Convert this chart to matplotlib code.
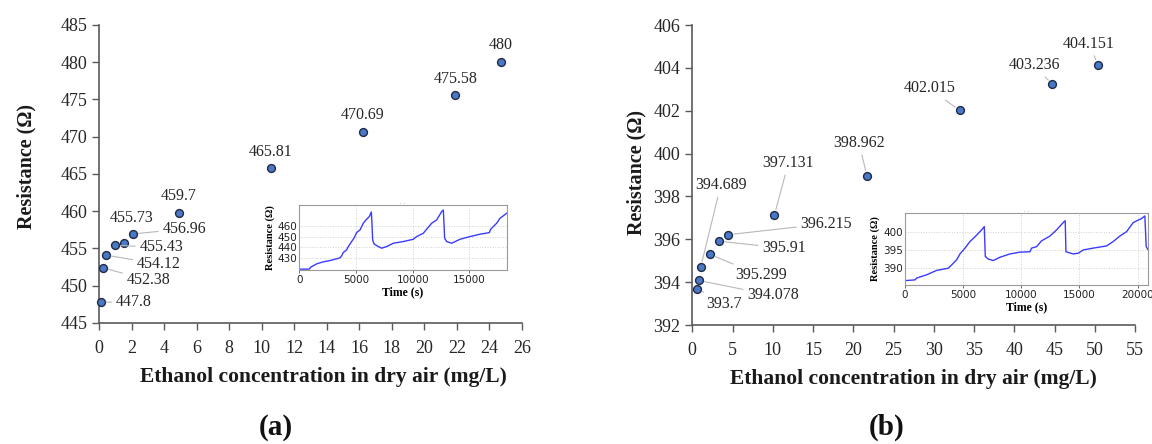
import matplotlib
matplotlib.use("Agg")
import matplotlib.pyplot as plt

# ---------------- data ----------------
conc_a = [0.1, 0.27, 0.4, 1.0, 1.55, 2.1, 4.92, 10.58, 16.2, 21.9, 24.7]
res_a = [447.8, 452.38, 454.12, 455.43, 455.73, 456.96, 459.7, 465.81, 470.69, 475.58, 480]

conc_b = [0.62, 0.84, 1.04, 2.16, 3.33, 4.49, 10.2, 21.7, 33.2, 44.7, 50.4]
res_b = [393.7, 394.078, 394.689, 395.299, 395.91, 396.215, 397.131, 398.962, 402.015, 403.236, 404.151]

# inset time series (a)
time_a = [0, 882, 1000, 1529, 2118, 2706, 3294, 3588, 3735, 3882, 4176, 4324, 4618, 4824,
          5059, 5353, 5647, 5882, 6176, 6353, 6412, 6471, 6588, 6971, 7265, 7706, 8294, 9176,
          10059, 10353, 10941, 11235, 11676, 12118, 12559, 12706, 12765, 12824, 13000, 13441,
          14176, 15059, 15941, 16765, 16882, 17412, 17706, 18294]
trace_a = [419.8, 419.8, 421.6, 424.7, 426.6, 427.8, 429.4, 430.3, 432.2, 435.3, 437.7, 440.8,
           445.5, 448.6, 453.8, 456.3, 462.5, 465.6, 468.7, 473.0, 462.5, 447.0, 443.3, 440.8,
           439.3, 440.8, 443.9, 445.5, 447.6, 450.1, 453.2, 456.9, 462.5, 465.6, 473.3, 474.8,
           462.5, 448.6, 445.5, 443.9, 447.6, 450.1, 452.3, 453.8, 456.9, 462.5, 467.1, 471.8]

# inset time series (b)
time_b = [0, 860, 1003, 1862, 2722, 3725, 4011, 4441, 4728, 5158, 5587, 6017, 6590, 6819, 6905,
          7163, 7593, 8166, 9026, 9885, 10745, 10888, 11318, 11748, 12464, 13037, 13668, 13782,
          13840, 14470, 14900, 15330, 16189, 17335, 17908, 18481, 19054, 19628, 20344, 20630,
          20745, 20917]
trace_b = [386.6, 386.8, 387.3, 388.2, 389.4, 390.0, 390.9, 392.3, 393.9, 395.5, 397.3, 398.6,
           400.5, 401.4, 393.2, 392.5, 392.1, 393.0, 393.9, 394.4, 394.5, 395.5, 395.9, 397.5,
           398.8, 400.5, 402.7, 403.0, 394.5, 393.9, 394.1, 395.0, 395.5, 396.1, 397.3, 398.8,
           400.0, 402.5, 403.6, 404.3, 395.9, 395.0]

xticks_a = list(range(0, 27, 2))
yticks_a = list(range(445, 486, 5))
xticks_b = list(range(0, 56, 5))
yticks_b = list(range(392, 407, 2))
inset_yticks_a = [430, 440, 450, 460]
inset_yticks_b = [390, 395, 400]
inset_xticks_a = [0, 5000, 10000, 15000]
inset_xticks_b = [0, 5000, 10000, 15000, 20000]

xlabel = "Ethanol concentration in dry air (mg/L)"
ylabel = "Resistance (\u03a9)"
inset_xlabel = "Time (s)"
inset_ylabel = "Resistance (\u03a9)"
panel_labels = ["(a)", "(b)"]

# label offsets in pixels (dx right, dy down) and whether a leader line is drawn
off_a = [(33, 0, True), (45, 12, True), (53, 9, True), (46, 2, True), (7, -25, False),
         (51, -5, True), (0, -17, False), (-1, -16, False), (0, -17, False), (0, -16, False),
         (0, -17, False)]
off_b = [(27, 15, True), (74, 15, True), (20, -82, True), (51, 21, True), (65, 7, True),
         (98, -11, True), (14, -52, True), (-8, -33, True), (-30, -22, True), (-18, -19, True),
         (-9, -21, True)]

SERIF = "Liberation Serif"
plt.rcParams["font.family"] = SERIF

W, H = 1152, 444
fig = plt.figure(figsize=(W / 100, H / 100), dpi=100)
fig.patch.set_facecolor("white")

def px_axes(x0, y0, x1, y1):
    return fig.add_axes([x0 / W, 1 - y1 / H, (x1 - x0) / W, (y1 - y0) / H])

spine_col = "#5a5a5a"
text_col = "#262626"
marker_face = "#4a78c8"
marker_edge = "#1f2a44"
leader_col = "#b8b8b8"

def main_panel(ax, xs, ys, xlim, ylim, xt, yt, offsets, xlab_x, ylab_x, ylab_y):
    ax.set_xlim(*xlim)
    ax.set_ylim(*ylim)
    ax.set_xticks(xt)
    ax.set_yticks(yt)
    for s in ("top", "right"):
        ax.spines[s].set_visible(False)
    for s in ("left", "bottom"):
        ax.spines[s].set_color(spine_col)
        ax.spines[s].set_linewidth(1.2)
    ax.tick_params(axis="both", direction="out", length=5, width=1.0, color=spine_col,
                   labelsize=13, labelcolor=text_col)
    ax.tick_params(axis="x", pad=7)
    ax.set_xlabel(xlabel, fontsize=15.5, fontweight="bold", color="#1a1a1a")
    ax.set_ylabel(ylabel, fontsize=14.5, fontweight="bold", color="#1a1a1a")
    ax.xaxis.set_label_coords(xlab_x, -0.147)
    ax.yaxis.set_label_coords(ylab_x, ylab_y)
    ax.scatter(xs, ys, s=32, c=marker_face, edgecolors=marker_edge, linewidths=1.0, zorder=3,
               clip_on=False)
    for x, y, (dx, dy, lead) in zip(xs, ys, offsets):
        kw = dict(xy=(x, y), xytext=(dx, -dy), textcoords="offset pixels",
                  ha="center", va="center", fontsize=11.5, color=text_col, zorder=4,
                  annotation_clip=False)
        if lead:
            kw["arrowprops"] = dict(arrowstyle="-", color=leader_col, lw=0.8,
                                    shrinkA=1, shrinkB=4)
        ax.annotate(f"{y:g}", **kw)

ax_a = px_axes(99, 25, 522, 323)
main_panel(ax_a, conc_a, res_a, (0, 26), (445, 485), xticks_a, yticks_a, off_a,
           (323.5 - 99) / 423, -(99 - 36) / 423, 0.525)

ax_b = px_axes(692.3, 25, 1135, 325)
main_panel(ax_b, conc_b, res_b, (0, 55), (392, 406), xticks_b, yticks_b, off_b,
           0.5, -(692.3 - 646) / 442.7, 0.51)

def inset(ax, t, r, xlim, ylim, xt, yt):
    ax.plot(t, r, color="#3b3bff", lw=1.0)
    ax.set_xlim(*xlim)
    ax.set_ylim(*ylim)
    ax.set_xticks(xt)
    ax.set_yticks(yt)
    ax.set_facecolor("white")
    for s in ax.spines.values():
        s.set_color("#9a9a9a")
        s.set_linewidth(0.8)
    ax.grid(True, color="#d0d0d0", linestyle=":", linewidth=0.7)
    ax.tick_params(axis="both", direction="out", length=2, width=0.6, color="#555555",
                   labelsize=7.5, pad=1.5)
    ax.tick_params(axis="y", length=0)
    for lab in ax.get_xticklabels() + ax.get_yticklabels():
        lab.set_fontfamily("Liberation Sans Narrow")
        lab.set_color("#222222")
    ax.set_xlabel(inset_xlabel, fontsize=8.5, fontweight="bold", labelpad=1)
    ax.set_ylabel(inset_ylabel, fontsize=7.5, fontweight="bold", labelpad=2)
    ax.set_title(". .", fontsize=5, color="#888888", pad=0)

ins_a = px_axes(299.3, 205, 506.7, 270)
inset(ins_a, time_a, trace_a, (0, 18300), (419, 479.5), inset_xticks_a, inset_yticks_a)

ins_b = px_axes(905, 212.7, 1148, 285)
inset(ins_b, time_b, trace_b, (0, 20900), (385.4, 405.2), inset_xticks_b, inset_yticks_b)

fig.text(276 / W, 1 - 427 / H, panel_labels[0], fontsize=21, fontweight="bold",
         ha="center", va="center", color="#111111")
fig.text(887 / W, 1 - 427 / H, panel_labels[1], fontsize=21, fontweight="bold",
         ha="center", va="center", color="#111111")

fig.savefig("out.png", dpi=100, facecolor="white")
